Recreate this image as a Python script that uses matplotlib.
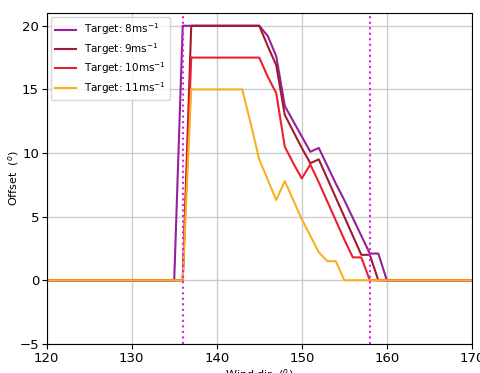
import numpy as np
import matplotlib
matplotlib.use("Agg")
import matplotlib.pyplot as plt

# Wind direction (degrees), 1-degree steps
wind_dir = list(range(120, 171))

# Offset (degrees) for each target wind speed, listed from 135 to 160;
# all values outside that window are zero
seg_start = 135
off_8 = [0, 20, 20, 20, 20, 20, 20, 20, 20, 20, 20, 19.2, 17.6, 13.7, 12.5,
         11.3, 10.1, 10.4, 9.0, 7.6, 6.3, 4.9, 3.5, 2.1, 2.1, 0]
off_9 = [0, 0, 20, 20, 20, 20, 20, 20, 20, 20, 20, 18.4, 16.9, 13.0, 11.7,
         10.4, 9.2, 9.5, 8.0, 6.5, 5.0, 3.5, 2.0, 2.0, 0, 0]
off_10 = [0, 0, 17.5, 17.5, 17.5, 17.5, 17.5, 17.5, 17.5, 17.5, 17.5, 16.0,
          14.7, 10.5, 9.2, 8.0, 9.1, 7.7, 6.2, 4.7, 3.2, 1.8, 1.8, 0, 0, 0]
off_11 = [0, 0, 15, 15, 15, 15, 15, 15, 15, 12.3, 9.5, 7.9, 6.3, 7.8, 6.3,
          4.8, 3.5, 2.2, 1.5, 1.5, 0, 0, 0, 0, 0, 0]

labels = [r"Target: 8ms$^{-1}$", r"Target: 9ms$^{-1}$",
          r"Target: 10ms$^{-1}$", r"Target: 11ms$^{-1}$"]
colors = ["#96209a", "#a11b30", "#ee1f2e", "#f8b023"]

# Sector limits
sector_lo, sector_hi = 136, 158


def full_series(seg):
    out = np.zeros(len(wind_dir))
    i0 = wind_dir.index(seg_start)
    out[i0:i0 + len(seg)] = seg
    return out


fig = plt.figure(figsize=(4.81, 3.73), dpi=100)
ax = fig.add_axes([0.097, 0.078, 0.884, 0.887])

for seg, lab, col in zip([off_8, off_9, off_10, off_11], labels, colors):
    ax.plot(wind_dir, full_series(seg), color=col, lw=1.5, label=lab)

ax.axvline(sector_lo, color="#dd22dd", ls=":", lw=1.5)
ax.axvline(sector_hi, color="#dd22dd", ls=":", lw=1.5)

ax.set_xlim(120, 170)
ax.set_ylim(-5, 21)
ax.set_xticks([120, 130, 140, 150, 160, 170])
ax.set_yticks([-5, 0, 5, 10, 15, 20])
ax.grid(True, color="#cccccc", lw=1)
ax.tick_params(labelsize=9.5, pad=2)

ax.set_xlabel(r"Wind dir. ($^{o}$)", fontsize=8, labelpad=2)
ax.set_ylabel(r"Offset  ($^{o}$)", fontsize=8, labelpad=-1)

ax.legend(loc="upper left", fontsize=7.5, handlelength=2.0,
          borderaxespad=0.4, labelspacing=0.35)

fig.savefig("out.png", dpi=100)
